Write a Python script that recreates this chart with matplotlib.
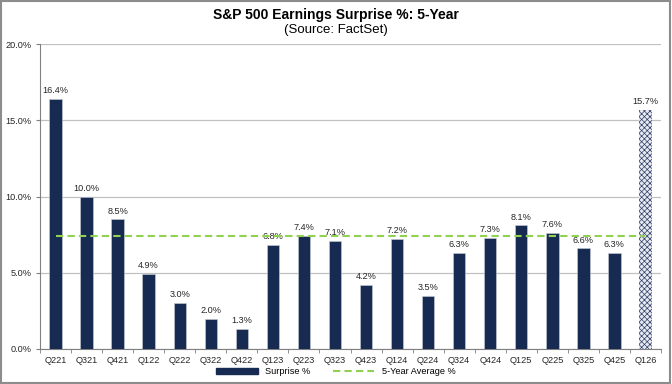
import numpy as np
import matplotlib.pyplot as plt
from matplotlib.patches import Rectangle, Patch
from matplotlib.lines import Line2D

plt.rcParams['font.family'] = ['Liberation Sans', 'DejaVu Sans']
plt.rcParams['hatch.linewidth'] = 0.5

quarters = ['Q221', 'Q321', 'Q421', 'Q122', 'Q222', 'Q322', 'Q422', 'Q123', 'Q223', 'Q323',
            'Q423', 'Q124', 'Q224', 'Q324', 'Q424', 'Q125', 'Q225', 'Q325', 'Q425', 'Q126']
surprise = [16.4, 10.0, 8.5, 4.9, 3.0, 2.0, 1.3, 6.8, 7.4, 7.1,
            4.2, 7.2, 3.5, 6.3, 7.3, 8.1, 7.6, 6.6, 6.3, 15.7]
five_year_avg = 7.4

navy = '#172a52'
green = '#92d050'

fig = plt.figure(figsize=(6.72, 3.84), dpi=100)
ax = fig.add_axes([40 / 672, 35 / 384, 621 / 672, 305 / 384])

x = np.arange(len(quarters))
ax.bar(x[:-1], surprise[:-1], width=0.4, color=navy, edgecolor='#c8ccd6', linewidth=0.4, zorder=3)
ax.bar(x[-1], surprise[-1], width=0.4, color='#e6e9f0', edgecolor='#2c3d66',
       hatch='xxxxxx', linewidth=0, zorder=3)

ax.plot([0, len(quarters) - 1], [five_year_avg] * 2, color=green, lw=1.5,
        ls=(0, (3.5, 2)), zorder=6)

for xi, v in zip(x, surprise):
    ax.text(xi, v + 0.25, f'{v:.1f}%', ha='center', va='bottom', fontsize=6.6, color='#262626', zorder=5)

ax.set_xlim(-0.5, len(quarters) - 0.5)
ax.set_ylim(0, 20)
ax.set_yticks(np.arange(0, 21, 5))
ax.set_yticklabels([f'{t:.1f}%' for t in np.arange(0, 21, 5)])
ax.set_xticks(x)
ax.set_xticklabels(quarters)
ax.set_xticks(np.arange(-0.5, len(quarters), 1), minor=True)
ax.tick_params(axis='x', which='major', length=0, labelsize=6.6, colors='#262626', pad=5)
ax.tick_params(axis='x', which='minor', length=3, color='#808080')
ax.tick_params(axis='y', length=3, color='#808080', labelsize=6.6, labelcolor='#262626', pad=3)
ax.grid(axis='y', color='#c0c0c0', lw=0.9, zorder=0)
for s in ['top', 'right']:
    ax.spines[s].set_visible(False)
ax.spines['left'].set_color('#808080')
ax.spines['bottom'].set_color('#808080')

fig.text(0.5, 1 - 15 / 384, 'S&P 500 Earnings Surprise %: 5-Year', ha='center', va='center',
         fontsize=10, fontweight='bold')
fig.text(0.5, 1 - 30 / 384, '(Source: FactSet)', ha='center', va='center', fontsize=9.5)

handles = [Patch(facecolor=navy, edgecolor=navy),
           Line2D([0], [0], color=green, lw=1.5, ls=(0, (3.5, 2)))]
fig.legend(handles, ['Surprise %', '5-Year Average %'], loc='center', bbox_to_anchor=(0.5, 1 - 372 / 384),
           ncol=2, frameon=False, fontsize=6.6, handlelength=4.5, handleheight=0.6, columnspacing=2.5)

fig.patches.append(Rectangle((0.002, 0.003), 0.995, 0.994, transform=fig.transFigure,
                             fill=False, edgecolor='#8c8c8c', lw=1.5))

fig.savefig('out.png', dpi=100)
